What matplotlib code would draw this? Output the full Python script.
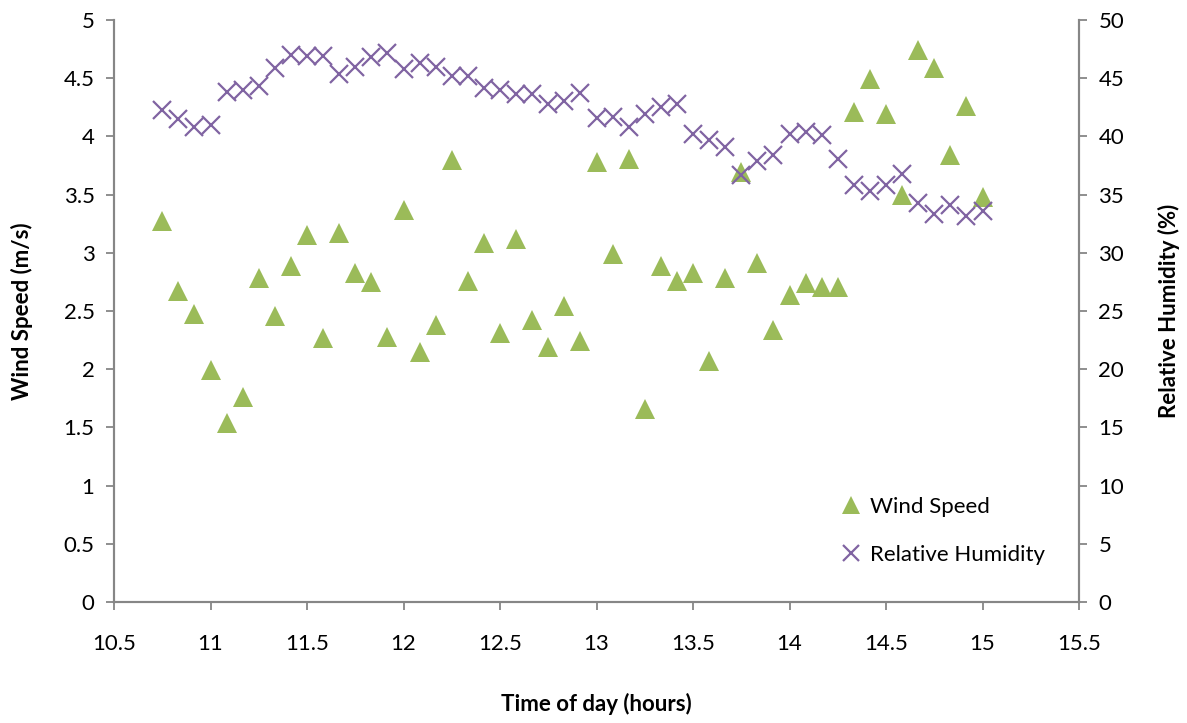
import numpy as np
import matplotlib
matplotlib.use("Agg")
import matplotlib.pyplot as plt

plt.rcParams['font.family'] = ['Lato', 'DejaVu Sans']

# Time of day (hours), 5-minute samples
time_hours = [10 + 9 / 12 + i / 12 for i in range(52)]

wind_speed = [3.27, 2.67, 2.47, 1.99, 1.54, 1.76, 2.78, 2.46, 2.89, 3.15,
              2.27, 3.17, 2.83, 2.75, 2.28, 3.37, 2.15, 2.38, 3.80, 2.76,
              3.08, 2.31, 3.12, 2.42, 2.19, 2.54, 2.24, 3.78, 2.99, 3.81,
              1.66, 2.89, 2.76, 2.83, 2.07, 2.78, 3.69, 2.91, 2.34, 2.64,
              2.74, 2.71, 2.71, 4.21, 4.49, 4.19, 3.50, 4.74, 4.59, 3.84,
              4.26, 3.48]

rel_humidity = [42.3, 41.5, 40.8, 41.0, 43.8, 44.0, 44.3, 45.9, 47.0, 46.9,
                46.9, 45.4, 46.0, 46.8, 47.2, 45.8, 46.3, 46.0, 45.2, 45.2,
                44.2, 44.0, 43.6, 43.6, 42.8, 43.0, 43.7, 41.6, 41.7, 40.8,
                41.9, 42.5, 42.8, 40.2, 39.7, 39.1, 36.7, 37.9, 38.4, 40.2,
                40.4, 40.1, 38.1, 35.8, 35.3, 35.8, 36.8, 34.3, 33.3, 34.1,
                33.2, 33.6]

x_ticks = [10.5, 11, 11.5, 12, 12.5, 13, 13.5, 14, 14.5, 15, 15.5]
x_tick_labels = ["10.5", "11", "11.5", "12", "12.5", "13", "13.5", "14", "14.5", "15", "15.5"]
ws_ticks = [0, 0.5, 1, 1.5, 2, 2.5, 3, 3.5, 4, 4.5, 5]
ws_tick_labels = ["0", "0.5", "1", "1.5", "2", "2.5", "3", "3.5", "4", "4.5", "5"]
rh_ticks = [0, 5, 10, 15, 20, 25, 30, 35, 40, 45, 50]

GREEN = "#9BBB59"
PURPLE = "#8064A2"
AXIS_GREY = "#868686"

fig = plt.figure(figsize=(11.87, 7.23), dpi=100)
ax = fig.add_axes([114 / 1187, 1 - 602 / 723, (1079 - 114) / 1187, (602 - 20) / 723])
ax2 = ax.twinx()

ws = ax.plot(time_hours, wind_speed, linestyle="none", marker="^", markersize=14,
             color=GREEN, markeredgewidth=0, label="Wind Speed", zorder=3)
rh = ax2.plot(time_hours, rel_humidity, linestyle="none", marker="x", markersize=13,
              color=PURPLE, markeredgewidth=1.6, label="Relative Humidity", zorder=3)

ax.set_xlim(10.5, 15.5)
ax.set_ylim(0, 5)
ax2.set_ylim(0, 50)
ax.set_xticks(x_ticks)
ax.set_xticklabels(x_tick_labels)
ax.set_yticks(ws_ticks)
ax.set_yticklabels(ws_tick_labels)
ax2.set_yticks(rh_ticks)
ax2.set_yticklabels([str(v) for v in rh_ticks])

for a in (ax, ax2):
    a.spines["top"].set_visible(False)
    for side in ("left", "right", "bottom"):
        a.spines[side].set_color(AXIS_GREY)
        a.spines[side].set_linewidth(1.5)
    a.tick_params(colors=AXIS_GREY, width=1.3, length=6, labelcolor="black", labelsize=16)

ax.tick_params(axis="x", direction="out", pad=17)
ax.tick_params(axis="y", direction="out", pad=8)
ax2.tick_params(axis="y", direction="out", pad=8)

ax.set_xlabel("Time of day (hours)", fontsize=16, fontweight="bold", labelpad=28)
ax.set_ylabel("Wind Speed (m/s)", fontsize=16, fontweight="bold", labelpad=22)
ax2.set_ylabel("Relative Humidity (%)", fontsize=16, fontweight="bold", labelpad=24,
               rotation=90)

ax.legend(handles=ws + rh, loc="lower right", bbox_to_anchor=(0.985, 0.03), frameon=False,
          fontsize=16, handlelength=0.9, handletextpad=0.4, labelspacing=1.25,
          markerscale=0.9)

fig.savefig("out.png", dpi=100, facecolor="white")
